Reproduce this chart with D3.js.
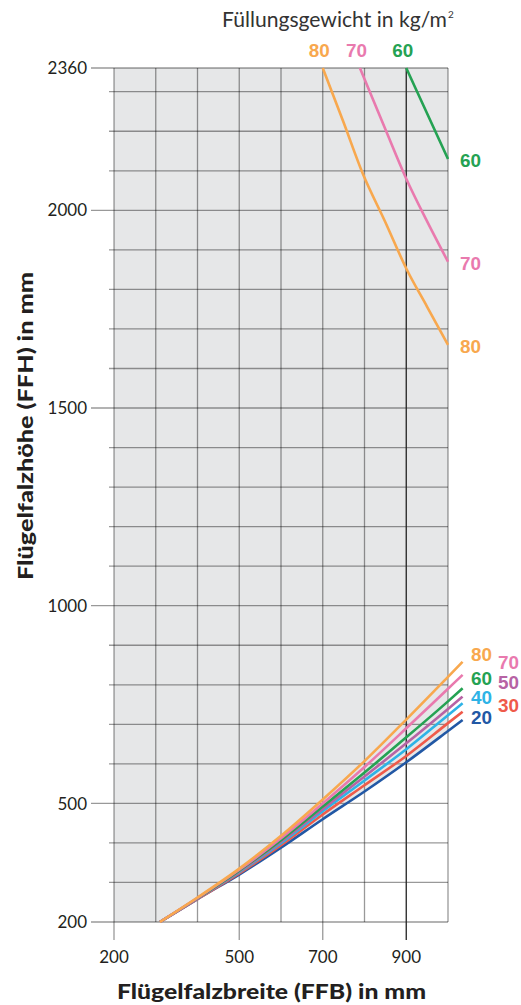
<!DOCTYPE html>
<html lang="de">
  <head>
    <meta charset="UTF-8" />
    <title>Flügelgewicht</title>
    <style>
      body { margin: 0; background: #fff; }
      text { font-family: "Lato", "Open Sans", sans-serif; fill: #231f20; }
      .num { font-family: "Liberation Sans", sans-serif; font-weight: bold; }
    </style>
  </head>
  <body>
    <div id="app"></div>
    <script src="https://cdn.jsdelivr.net/npm/d3@7"></script>
    <script>
      // Flügelfalzbreite (mm) der unteren Kurven
      const lowX = [310, 400, 500, 600, 700, 800, 900, 1000, 1035];
      // Flügelfalzhöhe (mm) je Füllungsgewicht
      const low80 = [200, 262, 335, 418, 510, 607, 712, 820, 858];
      const low70 = [200, 261, 332, 412, 500, 592, 690, 790, 825];
      const low60 = [200, 260, 330, 407, 492, 578, 667, 758, 791];
      const low50 = [200, 259, 328, 403, 486, 568, 652, 739, 770];
      const low40 = [200, 259, 326, 399, 480, 558, 637, 723, 753];
      const low30 = [200, 258, 323, 394, 472, 546, 620, 703, 732];
      const low20 = [200, 258, 320, 388, 460, 530, 604, 683, 711];

      // obere Kurven
      const up80X = [700, 750, 795, 850, 900, 950, 1000];
      const up80Y = [2360, 2222, 2095, 1970, 1853, 1756, 1660];
      const up70X = [789, 850, 900, 950, 1000];
      const up70Y = [2360, 2205, 2080, 1972, 1870];
      const up60X = [900, 950, 1000];
      const up60Y = [2360, 2245, 2130];

      const xTicks = [200, 500, 700, 900];
      const yTicks = [200, 500, 1000, 1500, 2000, 2360];

      const width = 521;
      const height = 1005;

      const x = d3.scaleLinear().domain([200, 1000]).range([114, 448]);
      const y = d3.scaleLinear().domain([200, 2360]).range([922, 68]);

      const colors = {
        80: "#f8a84e",
        70: "#e97aae",
        60: "#25a253",
        50: "#b763a4",
        40: "#2eb3e6",
        30: "#ef5a4a",
        20: "#2258a5"
      };

      const zip = (xs, ys) => xs.map((d, i) => [d, ys[i]]);

      const svg = d3
        .select("#app")
        .append("svg")
        .attr("width", width)
        .attr("height", height);

      // grauer Hintergrund, weiß unterhalb der Kurven
      svg
        .append("rect")
        .attr("x", x(200))
        .attr("y", y(2360))
        .attr("width", x(1000) - x(200))
        .attr("height", y(200) - y(2360))
        .attr("fill", "#e6e7e8");

      const whiteArea = d3
        .area()
        .x(d => x(d[0]))
        .y0(y(200))
        .y1(d => y(d[1]))
        .curve(d3.curveMonotoneX);
      svg
        .append("path")
        .datum(zip(lowX, low20).filter(d => d[0] <= 1000))
        .attr("d", whiteArea)
        .attr("fill", "#fff");

      // Raster
      const grid = svg.append("g").attr("stroke", "rgba(0,0,0,0.4)").attr("stroke-width", 1.3);
      d3.range(200, 2360, 100)
        .concat([2360])
        .forEach(v => {
          const major = yTicks.includes(v);
          grid
            .append("line")
            .attr("x1", major ? 91 : 109)
            .attr("x2", x(1000))
            .attr("y1", y(v))
            .attr("y2", y(v));
        });
      d3.range(200, 1001, 100).forEach(v => {
        const major = xTicks.includes(v);
        grid
          .append("line")
          .attr("x1", x(v))
          .attr("x2", x(v))
          .attr("y1", y(2360))
          .attr("y2", major ? 940 : y(200))
          .attr("stroke", v === 900 ? "#222" : null);
      });

      // Achsenbeschriftung
      svg
        .selectAll(".ylab")
        .data(yTicks)
        .enter()
        .append("text")
        .attr("x", 87)
        .attr("y", d => y(d))
        .attr("dy", "0.36em")
        .attr("text-anchor", "end")
        .attr("font-size", 17)
        .text(d => d);

      svg
        .selectAll(".xlab")
        .data(xTicks)
        .enter()
        .append("text")
        .attr("x", d => x(d))
        .attr("y", 963)
        .attr("text-anchor", "middle")
        .attr("font-size", 17)
        .text(d => d);

      // Kurven
      const line = d3
        .line()
        .x(d => x(d[0]))
        .y(d => y(d[1]))
        .curve(d3.curveMonotoneX);

      const lower = [
        ["20", low20],
        ["30", low30],
        ["40", low40],
        ["50", low50],
        ["60", low60],
        ["70", low70],
        ["80", low80]
      ];
      lower.forEach(([k, ys]) => {
        svg
          .append("path")
          .attr("d", line(zip(lowX, ys)))
          .attr("fill", "none")
          .attr("stroke", colors[k])
          .attr("stroke-width", 2.6);
      });

      const upper = [
        ["80", up80X, up80Y],
        ["70", up70X, up70Y],
        ["60", up60X, up60Y]
      ];
      upper.forEach(([k, xs, ys]) => {
        svg
          .append("path")
          .attr("d", line(zip(xs, ys)))
          .attr("fill", "none")
          .attr("stroke", colors[k])
          .attr("stroke-width", 2.6);
      });

      // Kurvenbeschriftung
      const numLabel = (t, px, py, fs) =>
        svg
          .append("text")
          .attr("class", "num")
          .attr("x", px)
          .attr("y", py)
          .attr("font-size", fs || 19)
          .attr("textLength", 21)
          .attr("lengthAdjust", "spacingAndGlyphs")
          .style("fill", colors[t])
          .text(t);

      upper.forEach(([k, xs, ys]) => {
        numLabel(k, x(xs[0]) - 14, 57);
        numLabel(k, 460, y(ys[ys.length - 1]) + 8);
      });

      numLabel("80", 471, 661, 18);
      numLabel("70", 498, 669, 18);
      numLabel("60", 471, 685, 18);
      numLabel("50", 498, 689, 18);
      numLabel("40", 471, 704, 18);
      numLabel("30", 498, 712, 18);
      numLabel("20", 471, 724, 18);

      // Titel
      const title = svg
        .append("text")
        .attr("x", 222)
        .attr("y", 27)
        .attr("font-size", 21)
        .style("fill", "#333");
      title
        .append("tspan")
        .attr("textLength", 225)
        .attr("lengthAdjust", "spacingAndGlyphs")
        .text("Füllungsgewicht in kg/m");
      title
        .append("tspan")
        .attr("font-size", 10)
        .attr("dx", 1)
        .attr("dy", -9)
        .text("2");

      svg
        .append("text")
        .attr("x", 117)
        .attr("y", 999)
        .attr("font-size", 21)
        .attr("font-weight", 900)
        .attr("textLength", 309)
        .attr("lengthAdjust", "spacingAndGlyphs")
        .text("Flügelfalzbreite (FFB) in mm");

      svg
        .append("text")
        .attr("transform", "translate(33,580) rotate(-90)")
        .attr("font-size", 21)
        .attr("font-weight", 900)
        .attr("textLength", 308)
        .attr("lengthAdjust", "spacingAndGlyphs")
        .text("Flügelfalzhöhe (FFH) in mm");
    </script>
  </body>
</html>
